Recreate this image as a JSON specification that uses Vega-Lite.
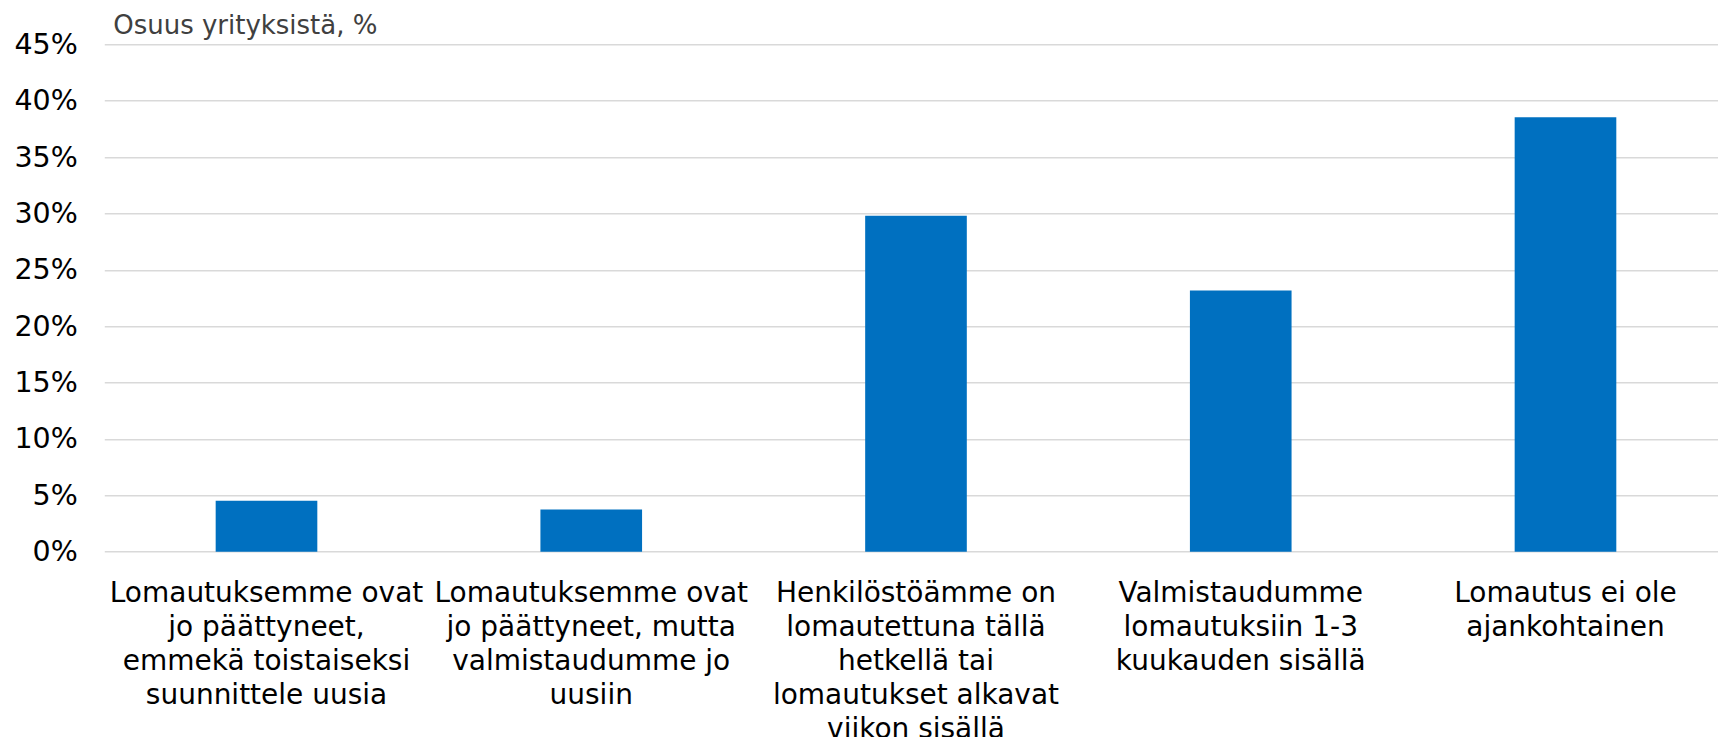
{
  "$schema": "https://vega.github.io/schema/vega-lite/v6.json",
  "width": 1614,
  "height": 507.4,
  "autosize": {"type": "none"},
  "padding": {"left": 104.3, "top": 44.3, "right": 0, "bottom": 185.3},
  "background": "white",
  "config": {"view": {"stroke": null}, "font": "DejaVu Sans"},
  "data": {
    "values": [
      {"kategoria": "Lomautuksemme ovat|jo päättyneet,|emmekä toistaiseksi|suunnittele uusia", "osuus": 0.0452},
      {"kategoria": "Lomautuksemme ovat|jo päättyneet, mutta|valmistaudumme jo|uusiin", "osuus": 0.0374},
      {"kategoria": "Henkilöstöämme on|lomautettuna tällä|hetkellä tai|lomautukset alkavat|viikon sisällä", "osuus": 0.2979},
      {"kategoria": "Valmistaudumme|lomautuksiin 1-3|kuukauden sisällä", "osuus": 0.2317},
      {"kategoria": "Lomautus ei ole|ajankohtainen", "osuus": 0.3853}
    ]
  },
  "mark": {"type": "bar", "color": "#0070C0"},
  "encoding": {
    "x": {
      "field": "kategoria",
      "type": "nominal",
      "sort": null,
      "scale": {"paddingInner": 0.687, "paddingOuter": 0.3285, "align": 0.522},
      "axis": {
        "title": null,
        "domain": false,
        "ticks": false,
        "grid": false,
        "labelAngle": 0,
        "labelFontSize": 28,
        "labelColor": "#000000",
        "labelLimit": 0,
        "labelOverlap": false,
        "labelFlush": false,
        "labelPadding": 28,
        "labelLineHeight": 34,
        "labelBaseline": "top",
        "labelExpr": "split(datum.label, '|')"
      }
    },
    "y": {
      "field": "osuus",
      "type": "quantitative",
      "scale": {"domain": [0, 0.45], "nice": false},
      "axis": {
        "title": "Osuus yrityksistä, %",
        "titleAngle": 0,
        "titleX": 8.4,
        "titleY": -11,
        "titleAlign": "left",
        "titleBaseline": "alphabetic",
        "titleFontSize": 26,
        "titleFontWeight": "normal",
        "titleColor": "#404040",
        "values": [0, 0.05, 0.1, 0.15, 0.2, 0.25, 0.3, 0.35, 0.4, 0.45],
        "format": ".0%",
        "domain": false,
        "ticks": false,
        "labelFontSize": 28.5,
        "labelColor": "#000000",
        "labelPadding": 27,
        "gridColor": "#d9d9d9",
        "gridWidth": 1.5
      }
    }
  }
}
